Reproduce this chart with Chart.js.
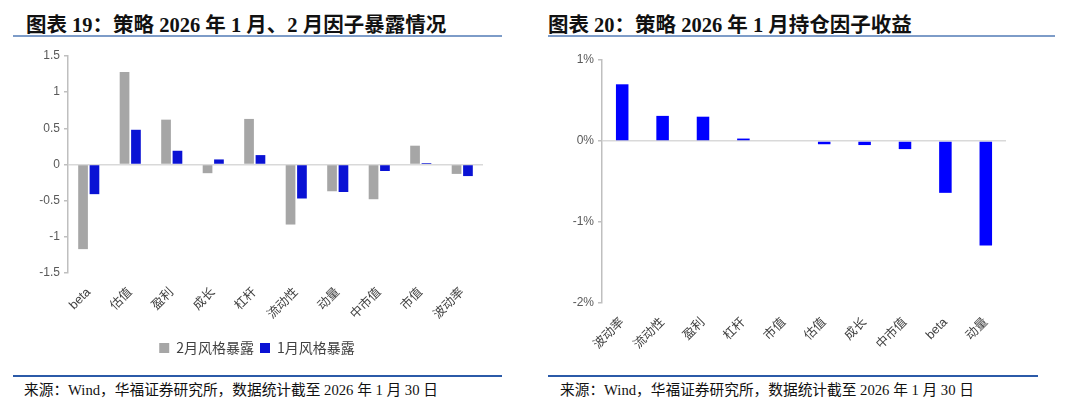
<!DOCTYPE html>
<html>
<head>
<meta charset="utf-8">
<script src="https://cdn.jsdelivr.net/npm/chart.js@4.4.1/dist/chart.umd.min.js"></script>
<style>
body { margin: 0; width: 1080px; height: 411px; background: #fff; position: relative; overflow: hidden; }
.title { position: absolute; top: 8px; font: bold 20.5px "Liberation Serif", "Noto Sans CJK SC", serif; color: #111; white-space: nowrap; }
.tline { position: absolute; top: 35px; height: 2px; background: #7d9cc8; }
.bline { position: absolute; top: 375px; height: 1.5px; background: #2b5aa8; }
.src { position: absolute; top: 378px; font: 14.7px "Liberation Serif", "Noto Sans CJK SC", serif; color: #111; white-space: nowrap; }
.box { position: absolute; top: 40px; }
</style>
</head>
<body>
<div class="title" style="left:26px">图表 19：策略 2026 年 1 月、2 月因子暴露情况</div>
<div class="tline" style="left:13px;width:489px"></div>
<div class="title" style="left:548px">图表 20：策略 2026 年 1 月持仓因子收益</div>
<div class="tline" style="left:548px;width:507px"></div>

<div class="box" style="left:0;width:540px;height:325px"><canvas id="c1"></canvas></div>
<div class="box" style="left:540px;width:540px;height:330px"><canvas id="c2"></canvas></div>

<div class="bline" style="left:13px;width:489px"></div>
<div class="src" style="left:24px">来源：Wind，华福证券研究所，数据统计截至 2026 年 1 月 30 日</div>
<div class="bline" style="left:548px;width:490px"></div>
<div class="src" style="left:560px">来源：Wind，华福证券研究所，数据统计截至 2026 年 1 月 30 日</div>

<script>
// 图表19 因子暴露
const factors1 = ['beta', '估值', '盈利', '成长', '杠杆', '流动性', '动量', '中市值', '市值', '波动率'];
const febExposure = [-1.17, 1.28, 0.62, -0.12, 0.63, -0.83, -0.37, -0.48, 0.26, -0.13];
const janExposure = [-0.41, 0.48, 0.19, 0.07, 0.13, -0.47, -0.38, -0.09, 0.02, -0.16];
const ticks1 = [1.5, 1, 0.5, 0, -0.5, -1, -1.5];

// 图表20 持仓因子收益 (%)
const factors2 = ['波动率', '流动性', '盈利', '杠杆', '市值', '估值', '成长', '中市值', 'beta', '动量'];
const janReturn = [0.70, 0.31, 0.30, 0.03, 0, -0.04, -0.05, -0.10, -0.64, -1.29];
const ticks2 = [1, 0, -1, -2];

const tickFont = { family: '"Liberation Sans", "Noto Sans CJK SC", sans-serif', size: 12 };
const catFont = { family: '"Liberation Sans", "Noto Sans CJK SC", sans-serif', size: 12.5 };

function zeroGrid() {
    return {
        drawOnChartArea: true,
        tickLength: 4,
        tickColor: '#bfbfbf',
        color: ctx => (ctx.tick && ctx.tick.value === 0) ? '#d9d9d9' : 'rgba(0,0,0,0)',
        lineWidth: 1.5
    };
}

new Chart(document.getElementById('c1'), {
    type: 'bar',
    data: {
        labels: factors1,
        datasets: [{
            label: '2月风格暴露',
            data: febExposure,
            backgroundColor: '#a6a6a6',
            categoryPercentage: 0.55,
            barPercentage: 0.85
        }, {
            label: '1月风格暴露',
            data: janExposure,
            backgroundColor: '#0a12d4',
            categoryPercentage: 0.55,
            barPercentage: 0.85
        }]
    },
    options: {
        responsive: true,
        maintainAspectRatio: false,
        animation: false,
        layout: { padding: { top: 16, left: 31, right: 57, bottom: 0 } },
        plugins: {
            tooltip: { enabled: false },
            legend: {
                position: 'bottom',
                labels: {
                    boxWidth: 10, boxHeight: 10, padding: 6,
                    color: '#404040',
                    font: { family: '"Noto Sans CJK SC", sans-serif', size: 14 }
                }
            }
        },
        scales: {
            x: {
                grid: { display: false },
                border: { display: false },
                ticks: { color: '#404040', font: catFont, minRotation: 45, maxRotation: 45, padding: 4 },
                afterFit: s => { s.height = 62; }
            },
            y: {
                min: -1.5, max: 1.5,
                afterBuildTicks: s => { s.ticks = ticks1.map(v => ({ value: v })); },
                grid: zeroGrid(),
                border: { color: '#bfbfbf', width: 1.5 },
                ticks: { color: '#595959', font: tickFont, padding: 4, callback: v => String(v) },
                afterFit: s => { s.width = 37; }
            }
        }
    }
});

new Chart(document.getElementById('c2'), {
    type: 'bar',
    data: {
        labels: factors2,
        datasets: [{
            label: '1月持仓因子收益',
            data: janReturn,
            backgroundColor: '#0000ff',
            categoryPercentage: 0.62,
            barPercentage: 0.5
        }]
    },
    options: {
        responsive: true,
        maintainAspectRatio: false,
        animation: false,
        layout: { padding: { top: 20, left: 20, right: 74, bottom: 0 } },
        plugins: {
            tooltip: { enabled: false },
            legend: { display: false }
        },
        scales: {
            x: {
                grid: { display: false },
                border: { display: false },
                ticks: { color: '#404040', font: catFont, minRotation: 45, maxRotation: 45, padding: 4 },
                afterFit: s => { s.height = 67; }
            },
            y: {
                min: -2, max: 1,
                afterBuildTicks: s => { s.ticks = ticks2.map(v => ({ value: v })); },
                grid: zeroGrid(),
                border: { color: '#bfbfbf', width: 1.5 },
                ticks: { color: '#595959', font: { family: '"Liberation Sans Narrow", "Liberation Sans", sans-serif', size: 12 }, padding: 4, callback: v => v + '%' },
                afterFit: s => { s.width = 42; }
            }
        }
    }
});
</script>
</body>
</html>
